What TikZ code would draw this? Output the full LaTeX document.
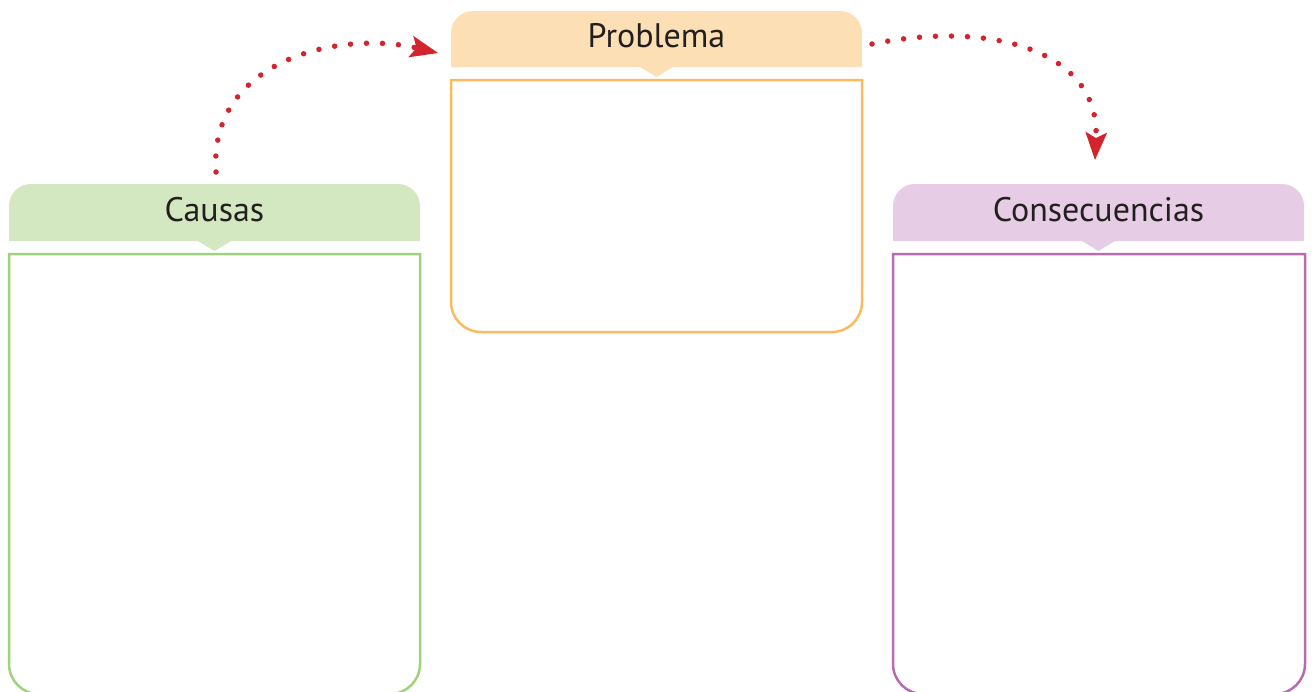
\documentclass[tikz,border=0pt]{standalone}
\usepackage{fontspec}
\setmainfont{PT Sans}
\usetikzlibrary{arrows.meta}
\definecolor{probfill}{HTML}{FDDFB5}
\definecolor{probline}{HTML}{FBBA5E}
\definecolor{caufill}{HTML}{D3E7C1}
\definecolor{cauline}{HTML}{9FD27C}
\definecolor{confill}{HTML}{E6CCE4}
\definecolor{conline}{HTML}{B76BB0}
\definecolor{dotred}{HTML}{D3232C}
\definecolor{txt}{HTML}{231F20}
\tikzset{
  tabtext/.style={inner sep=0pt, text=txt, font=\fontsize{34}{40}\selectfont, anchor=base},
  boxline/.style={line width=2.5pt},
  dotarrow/.style={draw=dotred, line width=5.5pt, line cap=round, dash pattern=on 0pt off 16pt,
    -{Stealth[length=28pt, width=22pt, inset=6pt, fill=dotred, color=dotred, line width=0pt]}},
}
\begin{document}
\begin{tikzpicture}[x=1pt,y=-1pt]
\useasboundingbox (0,0) rectangle (1312,691);
% ---------- Problema
\fill[probfill] (451,67) [rounded corners=22] -- (451,11) -- (862,11) [sharp corners] -- (862,67) -- cycle;
\fill[probfill] (640,67) -- (656.5,77) -- (673,67) -- cycle;
\draw[boxline, probline] (451,80) [rounded corners=30] -- (451,332) -- (862,332) [sharp corners] -- (862,80) -- cycle;
\node[tabtext] (prob) at (656.5,47) {Problema};
% ---------- Causas
\fill[caufill] (9,241) [rounded corners=22] -- (9,184) -- (420,184) [sharp corners] -- (420,241) -- cycle;
\fill[caufill] (198,241) -- (214.5,251) -- (231,241) -- cycle;
\draw[boxline, cauline] (9,254) [rounded corners=30] -- (9,694) -- (420,694) [sharp corners] -- (420,254) -- cycle;
\node[tabtext] (cau) at (214.5,221) {Causas};
% ---------- Consecuencias
\fill[confill] (893,241) [rounded corners=22] -- (893,184) -- (1304,184) [sharp corners] -- (1304,241) -- cycle;
\fill[confill] (1082,241) -- (1098.5,251) -- (1115,241) -- cycle;
\draw[boxline, conline] (893,254) [rounded corners=30] -- (893,694) -- (1305,694) [sharp corners] -- (1305,254) -- cycle;
\node[tabtext] (con) at (1098.5,221) {Consecuencias};
% ---------- arrows
\coordinate (a1s) at (216,172);
\coordinate (a1e) at (438,53);
\coordinate (a2s) at (872,44);
\coordinate (a2e) at (1095,160);
\draw[dotarrow] (a1s) .. controls (208,60) and (340,30) .. (a1e);
\draw[dotarrow] (a2s) .. controls (990,20) and (1100,50) .. (a2e);
\end{tikzpicture}
\end{document}
